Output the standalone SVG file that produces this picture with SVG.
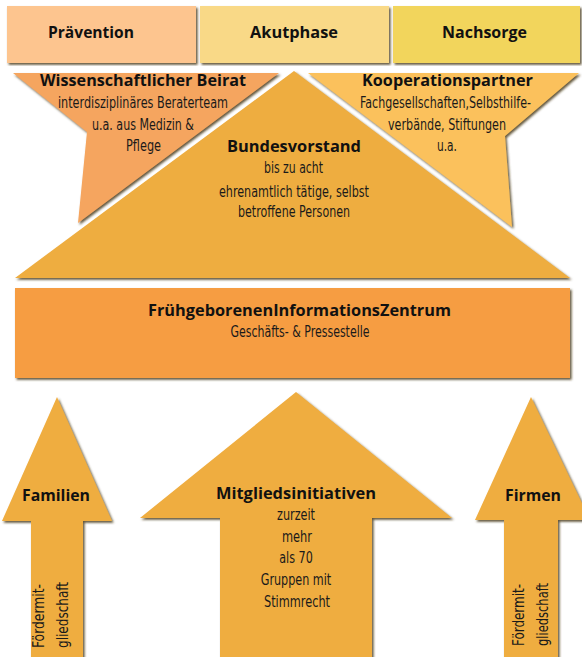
<svg xmlns="http://www.w3.org/2000/svg" width="582" height="657" viewBox="0 0 582 657">
<defs>
<filter id="sh" x="-5%" y="-5%" width="110%" height="110%">
<feDropShadow dx="1.6" dy="1.8" stdDeviation="0.9" flood-color="#4a3818" flood-opacity="0.85"/>
</filter>
<style>
.t{font-family:"Open Sans","Liberation Sans",sans-serif;font-weight:700;font-size:16.5px;fill:#111;text-anchor:middle}
.b{font-family:"Liberation Sans Narrow","DejaVu Sans Condensed","Liberation Sans",sans-serif;font-stretch:condensed;font-size:16px;fill:#1a1a1a;text-anchor:middle}
.v{font-family:"Liberation Sans Narrow","DejaVu Sans Condensed","Liberation Sans",sans-serif;font-stretch:condensed;font-size:15.5px;fill:#1a1a1a}
.s{filter:url(#sh)}
</style>
</defs>
<rect width="582" height="657" fill="#ffffff"/>

<g id="praevention">
<rect class="s" x="7" y="6" width="189" height="57" fill="#FDC58F"/>
<text class="t" x="91" y="38" textLength="86" lengthAdjust="spacingAndGlyphs">Prävention</text>
</g>
<g id="akutphase">
<rect class="s" x="200" y="6" width="189" height="57" fill="#F9D987"/>
<text class="t" x="294" y="38" textLength="88" lengthAdjust="spacingAndGlyphs">Akutphase</text>
</g>
<g id="nachsorge">
<rect class="s" x="393" y="6" width="187" height="57" fill="#F2D55C"/>
<text class="t" x="484.5" y="38" textLength="85" lengthAdjust="spacingAndGlyphs">Nachsorge</text>
</g>

<g id="beirat">
<polygon class="s" points="13,73 279,73 78,223 87,132" fill="#F5A55E"/>
<text class="t" x="143" y="86" textLength="206" lengthAdjust="spacingAndGlyphs">Wissenschaftlicher Beirat</text>
<text class="b" x="143" y="108" textLength="170" lengthAdjust="spacingAndGlyphs">interdisziplinäres Beraterteam</text>
<text class="b" x="143" y="130" textLength="102" lengthAdjust="spacingAndGlyphs">u.a. aus Medizin &amp;</text>
<text class="b" x="143.5" y="151" textLength="35" lengthAdjust="spacingAndGlyphs">Pflege</text>
</g>

<g id="kooperationspartner">
<polygon class="s" points="308,73 579,73 505,136 512,227" fill="#FBC15B"/>
<text class="t" x="447.5" y="86" textLength="171" lengthAdjust="spacingAndGlyphs">Kooperationspartner</text>
<text class="b" x="445.5" y="108" textLength="171" lengthAdjust="spacingAndGlyphs">Fachgesellschaften,Selbsthilfe-</text>
<text class="b" x="447" y="129.5" textLength="118" lengthAdjust="spacingAndGlyphs">verbände, Stiftungen</text>
<text class="b" x="447" y="151" textLength="20" lengthAdjust="spacingAndGlyphs">u.a.</text>
</g>

<g id="bundesvorstand">
<polygon class="s" points="294,71 570,278 15,278" fill="#EEAD40"/>
<text class="t" x="294" y="152" textLength="134" lengthAdjust="spacingAndGlyphs">Bundesvorstand</text>
<text class="b" x="293.5" y="173" textLength="59" lengthAdjust="spacingAndGlyphs">bis zu acht</text>
<text class="b" x="294" y="196.5" textLength="150" lengthAdjust="spacingAndGlyphs">ehrenamtlich tätige, selbst</text>
<text class="b" x="294" y="217" textLength="112" lengthAdjust="spacingAndGlyphs">betroffene Personen</text>
</g>

<g id="fiz">
<rect class="s" x="15" y="288" width="555" height="90" fill="#F69D42"/>
<text class="t" x="299.5" y="316" textLength="303" lengthAdjust="spacingAndGlyphs">FrühgeborenenInformationsZentrum</text>
<text class="b" x="300" y="337" textLength="139" lengthAdjust="spacingAndGlyphs">Geschäfts- &amp; Pressestelle</text>
</g>

<g id="familien">
<polygon class="s" points="57,397 112,521 83,521 83,670 31,670 31,521 2,521" fill="#EFAD41"/>
<text class="t" x="56" y="501" textLength="68" lengthAdjust="spacingAndGlyphs">Familien</text>
<text class="v" transform="translate(44,648) rotate(-90)" textLength="64" lengthAdjust="spacingAndGlyphs">Fördermit-</text>
<text class="v" transform="translate(68,648) rotate(-90)" textLength="66" lengthAdjust="spacingAndGlyphs">gliedschaft</text>
</g>

<g id="mitgliedsinitiativen">
<polygon class="s" points="296,392 452,518 372,518 372,670 220,670 220,518 140,518" fill="#EFAD41"/>
<text class="t" x="296" y="499" textLength="160" lengthAdjust="spacingAndGlyphs">Mitgliedsinitiativen</text>
<text class="b" x="296" y="520" textLength="38" lengthAdjust="spacingAndGlyphs">zurzeit</text>
<text class="b" x="297" y="541.5" textLength="30" lengthAdjust="spacingAndGlyphs">mehr</text>
<text class="b" x="296" y="563" textLength="33.5" lengthAdjust="spacingAndGlyphs">als 70</text>
<text class="b" x="296" y="585" textLength="70.5" lengthAdjust="spacingAndGlyphs">Gruppen mit</text>
<text class="b" x="297" y="607" textLength="66" lengthAdjust="spacingAndGlyphs">Stimmrecht</text>
</g>

<g id="firmen">
<polygon class="s" points="531,397 590,520 558,520 558,670 504,670 504,520 475,520" fill="#EFAD41"/>
<text class="t" x="533" y="501" textLength="56" lengthAdjust="spacingAndGlyphs">Firmen</text>
<text class="v" transform="translate(523.5,646) rotate(-90)" textLength="62" lengthAdjust="spacingAndGlyphs">Fördermit-</text>
<text class="v" transform="translate(547.5,646) rotate(-90)" textLength="63" lengthAdjust="spacingAndGlyphs">gliedschaft</text>
</g>

<g id="connectors"></g>
</svg>
